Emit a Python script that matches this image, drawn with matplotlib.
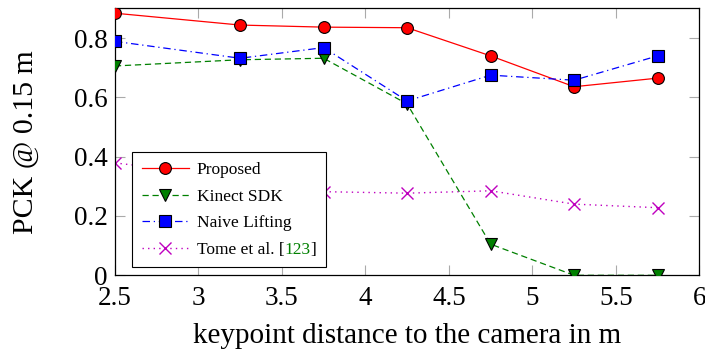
import numpy as np
import matplotlib
matplotlib.use("Agg")
import matplotlib.pyplot as plt
from matplotlib.offsetbox import TextArea, HPacker

plt.rcParams['font.family'] = ['Liberation Serif', 'DejaVu Serif']

# distances (m) and PCK values per method
distance = [2.5, 3.25, 3.75, 4.25, 4.75, 5.25, 5.75]
proposed = [0.884, 0.844, 0.837, 0.835, 0.740, 0.636, 0.665]
kinect = [0.706, 0.727, 0.732, 0.578, 0.105, 0.0, 0.0]
naive = [0.789, 0.732, 0.768, 0.588, 0.675, 0.658, 0.740]
tome = [0.379, 0.33, 0.282, 0.277, 0.285, 0.240, 0.228]

xticks = [2.5, 3, 3.5, 4, 4.5, 5, 5.5, 6]
yticks = [0, 0.2, 0.4, 0.6, 0.8]

fig = plt.figure(figsize=(7.05, 3.56), dpi=100)
ax = fig.add_axes([0.163, 0.2267, 0.829, 0.7508])

ax.plot(distance, proposed, color='red', lw=0.9, marker='o', ms=8.5,
        mfc='red', mec='black', mew=0.8, label='Proposed', zorder=4)
ax.plot(distance, kinect, color='green', lw=0.9, ls=(0, (5, 3)), marker='v', ms=8,
        mfc='green', mec='black', mew=0.8, label='Kinect SDK', zorder=3)
ax.plot(distance, naive, color='blue', lw=0.9, ls=(0, (6, 3, 1, 3)), marker='s', ms=8,
        mfc='blue', mec='black', mew=0.8, label='Naive Lifting', zorder=5)
ax.plot(distance, tome, color='m', lw=1.0, ls=(0, (1, 3)), marker='x', ms=9,
        mew=1.0, label='Tome et al. [123]', zorder=2)

ax.set_xlim(2.5, 6)
ax.set_ylim(0, 0.9015)
ax.set_xticks(xticks)
ax.set_xticklabels(['2.5', '3', '3.5', '4', '4.5', '5', '5.5', '6'])
ax.set_yticks(yticks)
ax.set_yticklabels(['0', '0.2', '0.4', '0.6', '0.8'])
ax.tick_params(direction='in', length=7.5, width=0.8, color='#aaaaaa',
               top=True, right=True, labelsize=19.5)
ax.tick_params(axis='x', pad=8)
ax.tick_params(axis='y', pad=5)
for s in ax.spines.values():
    s.set_linewidth(0.9)

ax.set_xlabel('keypoint distance to the camera in m', fontsize=21, labelpad=8)
ax.set_ylabel('PCK @ 0.15 m', fontsize=21.5, labelpad=25)

leg = ax.legend(loc='lower left', bbox_to_anchor=(0.03, 0.03), borderaxespad=0,
                fontsize=12.5, frameon=True, fancybox=False, edgecolor='black',
                framealpha=1, handlelength=2.7, borderpad=0.55, labelspacing=0.6,
                handletextpad=0.45)
leg.get_frame().set_linewidth(0.8)
leg.set_zorder(10)

# swap the last legend label for a packed one with a green citation number
lt = leg.get_texts()[3]
parts = [('Tome et al. [', 'black'), ('123', 'green'), (']', 'black')]
cite = HPacker(children=[TextArea(s, textprops=dict(color=c, fontsize=12.5))
                         for s, c in parts], pad=0, sep=0, align='baseline')
for col in leg._legend_handle_box.get_children():
    for row in col.get_children():
        kids = row.get_children()
        if len(kids) > 1 and isinstance(kids[1], TextArea) and kids[1]._text is lt:
            kids[1] = cite
leg._legend_box.set_figure(fig)

fig.savefig('out.png', dpi=100)
